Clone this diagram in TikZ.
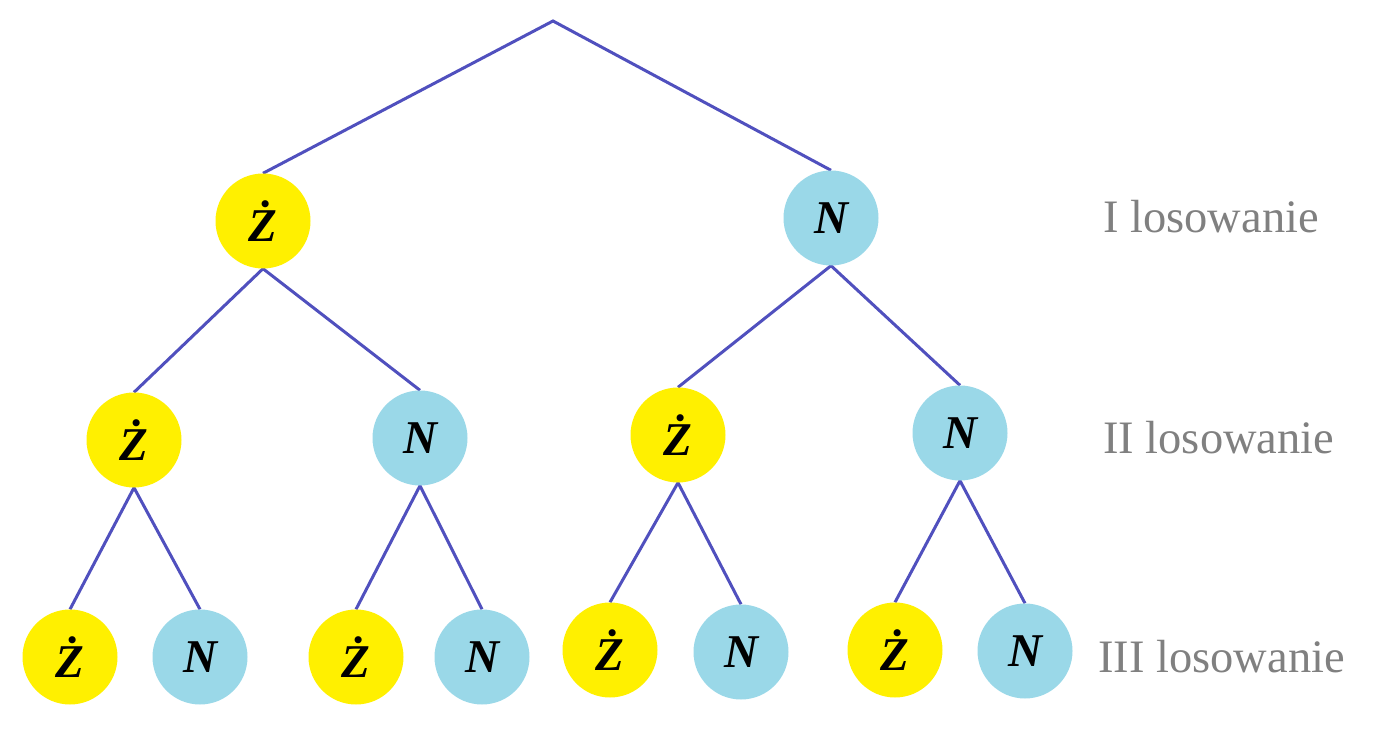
\documentclass[tikz,border=0pt]{standalone}
\usepackage{fontspec}
\setmainfont{Liberation Serif}
\usetikzlibrary{backgrounds}
\definecolor{zyel}{RGB}{255,240,0}
\definecolor{nblue}{RGB}{154,216,232}
\definecolor{edgeblue}{RGB}{80,80,190}
\definecolor{lblgray}{RGB}{128,128,128}
\tikzset{
  leaf/.style={circle,minimum size=95pt,inner sep=0pt,
    font=\fontsize{47}{50}\selectfont\bfseries\itshape},
  zn/.style={leaf,fill=zyel},
  nn/.style={leaf,fill=nblue},
  edge/.style={draw=edgeblue,line width=3pt},
  lvl/.style={anchor=base west,text=lblgray,inner sep=0pt,
    font=\fontsize{46.5}{50}\selectfont}
}
\begin{document}
\begin{tikzpicture}[x=1pt,y=-1pt]
\useasboundingbox (0,0) rectangle (1392,751);
\coordinate (r) at (553,21);
\node[zn] (a) at (263,221) {Ż};
\node[nn] (b) at (831,218) {N};
\node[zn] (aa) at (134,440) {Ż};
\node[nn] (ab) at (420,438) {N};
\node[zn] (ba) at (678,435) {Ż};
\node[nn] (bb) at (960,433) {N};
\node[zn] (aaa) at (70,657) {Ż};
\node[nn] (aab) at (200,657) {N};
\node[zn] (aba) at (356,657) {Ż};
\node[nn] (abb) at (482,657) {N};
\node[zn] (baa) at (610,650) {Ż};
\node[nn] (bab) at (741,652) {N};
\node[zn] (bba) at (895,650) {Ż};
\node[nn] (bbb) at (1025,651) {N};
\node[lvl] (l1) at (1103,233) {I losowanie};
\node[lvl] (l2) at (1103,453) {II losowanie};
\node[lvl] (l3) at (1098,672) {III losowanie};
\begin{scope}[on background layer]
\draw[edge] (a.north) -- (r) -- (b.north);
\draw[edge] (aa.north) -- (a.south) -- (ab.north);
\draw[edge] (ba.north) -- (b.south) -- (bb.north);
\draw[edge] (aaa.north) -- (aa.south) -- (aab.north);
\draw[edge] (aba.north) -- (ab.south) -- (abb.north);
\draw[edge] (baa.north) -- (ba.south) -- (bab.north);
\draw[edge] (bba.north) -- (bb.south) -- (bbb.north);
\end{scope}
\end{tikzpicture}
\end{document}
